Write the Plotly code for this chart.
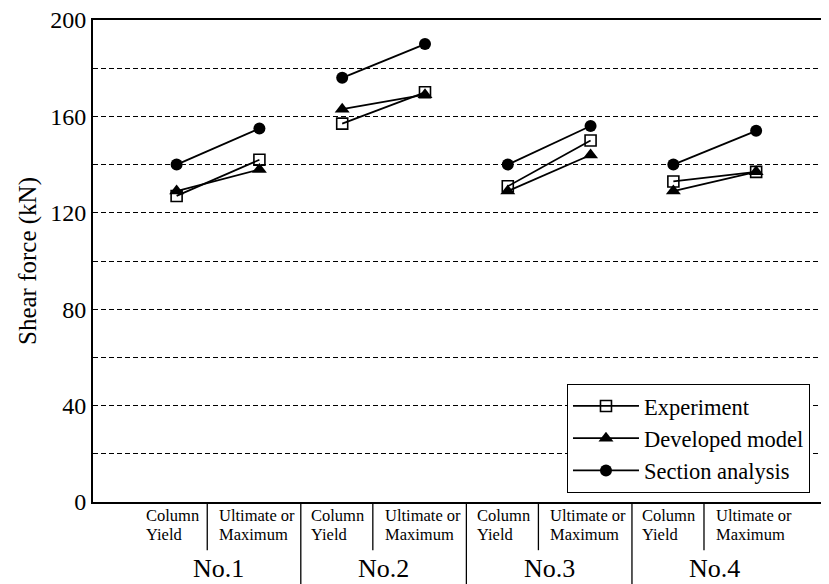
import plotly.graph_objects as go

# ---- data ----
groups = ["No.1", "No.2", "No.3", "No.4"]
stage_labels = [["Column", "Yield"], ["Ultimate or", "Maximum"]]
x_pos = [1, 2, 3, 4, 5, 6, 7, 8]  # Column Yield / Ultimate or Maximum per specimen
experiment = [127, 142, 157, 170, 131, 150, 133, 137]
developed_model = [129, 138, 163, 169, 129, 144, 129, 137]
section_analysis = [140, 155, 176, 190, 140, 156, 140, 154]
y_ticks = [0, 40, 80, 120, 160, 200]

FONT = "Liberation Serif"


def with_gaps(xs, ys):
    gx, gy = [], []
    for i in range(0, len(xs), 2):
        gx += [xs[i], xs[i + 1], None]
        gy += [ys[i], ys[i + 1], None]
    return gx, gy


fig = go.Figure()
series = [
    ("Experiment", experiment, dict(symbol="square-open", size=11, color="black", line=dict(width=1.6, color="black"))),
    ("Developed model", developed_model, dict(symbol="triangle-up", size=13, color="black")),
    ("Section analysis", section_analysis, dict(symbol="circle", size=12, color="black")),
]
for name, vals, mk in series:
    gx, gy = with_gaps(x_pos, vals)
    fig.add_trace(go.Scatter(x=gx, y=gy, name=name, mode="lines+markers",
                             line=dict(color="black", width=1.8), marker=mk))

xr = [-0.01, 8.88]

shapes = []
annotations = []
for g in range(4):
    cy = x_pos[2 * g]
    um = x_pos[2 * g + 1]
    # short separator between stages
    shapes.append(dict(type="line", xref="x", yref="paper", x0=cy + 0.37, x1=cy + 0.37,
                       y0=0, y1=-0.1, line=dict(color="black", width=1.3)))
    if g > 0:
        shapes.append(dict(type="line", xref="x", yref="paper", x0=cy - 0.5, x1=cy - 0.5,
                           y0=0, y1=-0.2, line=dict(color="black", width=1.3)))
    for k, (xx, lab) in enumerate([(cy - 0.4, stage_labels[0]), (um - 0.51, stage_labels[1])]):
        for r, txt in enumerate(lab):
            annotations.append(dict(x=xx, y=-0.029 - r * 0.039, xref="x", yref="paper", text=txt,
                                    showarrow=False, xanchor="left", yanchor="middle",
                                    font=dict(family=FONT, size=16.5, color="black")))
    annotations.append(dict(x=(cy + um) / 2, y=-0.137, xref="x", yref="paper", text=groups[g],
                            showarrow=False, xanchor="center", yanchor="middle",
                            font=dict(family=FONT, size=26, color="black")))

fig.update_layout(
    width=821, height=576,
    margin=dict(l=85, r=0, t=12, b=82),
    paper_bgcolor="white", plot_bgcolor="white",
    font=dict(family=FONT, color="black"),
    showlegend=True,
    legend=dict(x=0.644, y=0.019, xanchor="left", yanchor="bottom",
                bordercolor="black", borderwidth=1, bgcolor="white",
                font=dict(family=FONT, size=22.5, color="black"),
                itemwidth=66, tracegroupgap=0),
    shapes=shapes,
    annotations=annotations,
)
fig.update_xaxes(range=xr, showticklabels=False, ticks="", showgrid=False, zeroline=False,
                 showline=True, linecolor="black", linewidth=2, mirror=True)
fig.update_yaxes(range=[0, 200], tickvals=list(range(0, 201, 20)),
                 ticktext=[str(v) if v in y_ticks else "" for v in range(0, 201, 20)],
                 ticks="", showgrid=True, gridcolor="black", gridwidth=1, griddash="5px,3px",
                 zeroline=False, showline=True, linecolor="black", linewidth=2, mirror=False,
                 ticklabeloverflow="allow",
                 tickfont=dict(family=FONT, size=24, color="black"),
                 title=dict(text="Shear force (kN)", font=dict(family=FONT, size=25, color="black"),
                            standoff=6))

fig.write_html("out.html")
